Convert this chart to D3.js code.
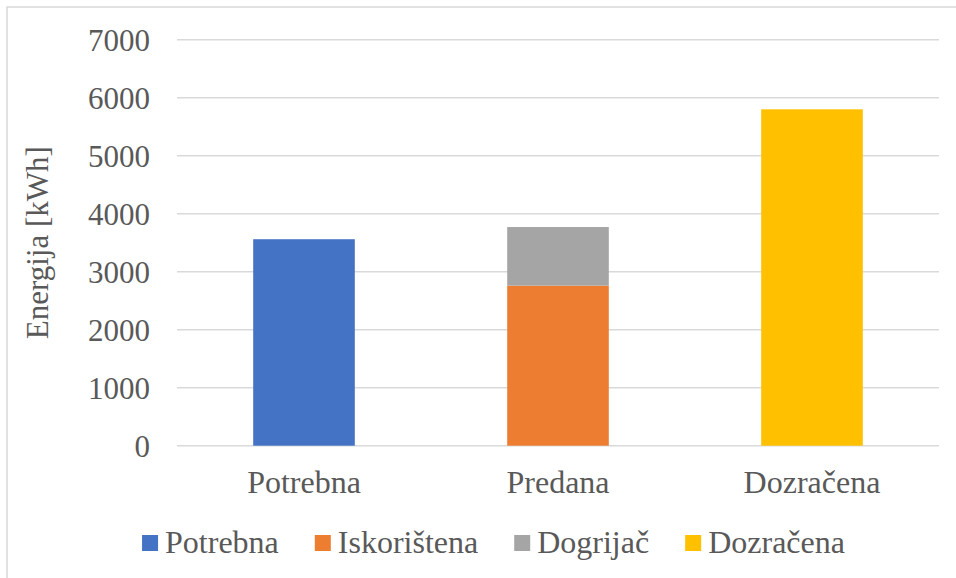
<!DOCTYPE html>
<html>
<head>
<meta charset="utf-8">
<script src="https://cdn.jsdelivr.net/npm/d3@7"></script>
<style>
  html, body { margin: 0; padding: 0; background: #fff; }
  svg { display: block; }
</style>
</head>
<body>
<svg id="chart" width="956" height="578"></svg>
<script>
// Categories on the x axis
const categories = ["Potrebna", "Predana", "Dozračena"];

// Series (stacked per category), values in kWh
const seriesNames = ["Potrebna", "Iskorištena", "Dogrijač", "Dozračena"];
const potrebna    = [3560, 0, 0];
const iskoristena = [0, 2760, 0];
const dogrijac    = [0, 1010, 0];
const dozracena   = [0, 0, 5800];

const seriesColors = ["#4472C4", "#ED7D31", "#A5A5A5", "#FFC000"];

const yTicks = [0, 1000, 2000, 3000, 4000, 5000, 6000, 7000];
const yTitle = "Energija [kWh]";

const FONT = "'Liberation Serif', 'Times New Roman', Times, serif";
const TEXT_COLOR = "#595959";

// Build rows for d3.stack
const rows = categories.map((c, i) => ({
  category: c,
  "Potrebna": potrebna[i],
  "Iskorištena": iskoristena[i],
  "Dogrijač": dogrijac[i],
  "Dozračena": dozracena[i]
}));

const svg = d3.select("#chart");

// Chart frame
svg.append("rect")
  .attr("x", 7).attr("y", 7)
  .attr("width", 1000).attr("height", 1000)
  .attr("fill", "#fff")
  .attr("stroke", "#d9d9d9").attr("stroke-width", 1.5);

const plot = { left: 177, right: 939, top: 39.7, bottom: 445.7 };

const x = d3.scaleBand()
  .domain(categories)
  .range([plot.left, plot.right])
  .paddingInner(0.6)
  .paddingOuter(0.3);

const y = d3.scaleLinear()
  .domain([0, 7000])
  .range([plot.bottom, plot.top]);

// Gridlines
svg.append("g")
  .selectAll("line")
  .data(yTicks)
  .join("line")
  .attr("x1", plot.left).attr("x2", plot.right)
  .attr("y1", d => y(d)).attr("y2", d => y(d))
  .attr("stroke", "#d9d9d9").attr("stroke-width", 1.5);

// Y axis tick labels
const yAxis = d3.axisLeft(y).tickValues(yTicks).tickSize(0).tickPadding(0).tickFormat(d3.format("d"));
const gy = svg.append("g").attr("transform", "translate(150,0)").call(yAxis);
gy.select(".domain").remove();
gy.selectAll("text")
  .style("font-family", FONT)
  .style("font-size", "31px")
  .style("fill", TEXT_COLOR)
  .attr("dy", "0.34em");

// Stacked bars
const stacked = d3.stack().keys(seriesNames)(rows);

svg.append("g")
  .selectAll("g")
  .data(stacked)
  .join("g")
  .attr("fill", (d, i) => seriesColors[i])
  .selectAll("rect")
  .data(d => d.filter(s => s[1] - s[0] > 0))
  .join("rect")
  .attr("x", d => x(d.data.category))
  .attr("width", x.bandwidth())
  .attr("y", d => y(d[1]))
  .attr("height", d => y(d[0]) - y(d[1]));

// X axis category labels
const xAxis = d3.axisBottom(x).tickSize(0).tickPadding(0);
const gx = svg.append("g").attr("transform", `translate(0,${plot.bottom})`).call(xAxis);
gx.select(".domain").remove();
gx.selectAll("text")
  .style("font-family", FONT)
  .style("font-size", "32px")
  .style("fill", TEXT_COLOR)
  .attr("dy", null)
  .attr("y", 47);

// Y axis title
svg.append("text")
  .attr("transform", `translate(48,${(plot.top + plot.bottom) / 2}) rotate(-90)`)
  .attr("text-anchor", "middle")
  .style("font-family", FONT)
  .style("font-size", "31px")
  .style("fill", TEXT_COLOR)
  .text(yTitle);

// Legend
const legend = svg.append("g");
const items = legend.selectAll("g")
  .data(seriesNames)
  .join("g");
items.append("rect")
  .attr("width", 16).attr("height", 16)
  .attr("y", -16)
  .attr("fill", (d, i) => seriesColors[i]);
items.append("text")
  .attr("x", 23)
  .attr("y", 2)
  .style("font-family", FONT)
  .style("font-size", "32px")
  .style("fill", TEXT_COLOR)
  .text(d => d);

let cursor = 0;
items.each(function () {
  const g = d3.select(this);
  g.attr("transform", `translate(${cursor},0)`);
  const w = 23 + g.select("text").node().getComputedTextLength();
  cursor += w + 36;
});
const legendWidth = cursor - 36;
legend.attr("transform", `translate(${493.5 - legendWidth / 2},551)`);
</script>
</body>
</html>
